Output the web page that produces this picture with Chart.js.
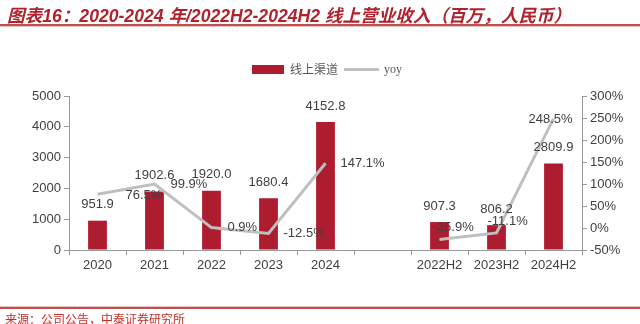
<!DOCTYPE html>
<html>
<head>
<meta charset="utf-8">
<script src="https://cdn.jsdelivr.net/npm/chart.js@4/dist/chart.umd.min.js"></script>
<style>
    body { margin: 0; background: #fff; }
    #wrap { position: relative; width: 640px; height: 324px; overflow: hidden; }
    #chart { position: absolute; left: 0; top: 0; }
    #title {
        position: absolute; left: 7px; top: 2px; white-space: nowrap;
        font: italic bold 17.6px "Liberation Sans", "Noto Sans CJK SC", sans-serif;
        color: #b0222c;
    }
    .rule { position: absolute; left: 0; width: 640px; }
    #legend {
        position: absolute; left: 252px; top: 61px; height: 16px; white-space: nowrap;
        font: 12px "Liberation Serif", "Noto Sans CJK SC", serif; color: #595959;
        display: flex; align-items: center;
    }
    #legend .bar { width: 32px; height: 9px; background: #ae1c30; margin-right: 6px; }
    #legend .line { width: 35px; height: 3px; background: #bfbfbf; margin: 0 5px 0 6px; }
    #source {
        position: absolute; left: 5px; top: 310px; white-space: nowrap;
        font: 12px "Noto Sans CJK SC", sans-serif; color: #c0302a;
    }
</style>
</head>
<body>
<div id="wrap">
    <canvas id="chart" width="640" height="324"></canvas>
    <div id="title">图表16：2020-2024 年/2022H2-2024H2 线上营业收入（百万，人民币）</div>
    <div class="rule" style="top:24px;height:2px;background:#c0504d;"></div>
    <div class="rule" style="top:26px;height:1px;background:#ebc4c3;"></div>
    <div id="legend">
        <span class="bar"></span><span>线上渠道</span>
        <span class="line"></span><span>yoy</span>
    </div>
    <div class="rule" style="top:306px;height:1px;background:#ebc4c3;"></div>
    <div class="rule" style="top:307px;height:2px;background:#c0504d;"></div>
    <div id="source">来源：公司公告，中泰证券研究所</div>
</div>

<script>
// data
var categories = ['2020', '2021', '2022', '2023', '2024', '', '2022H2', '2023H2', '2024H2'];
var revenue = [951.9, 1902.6, 1920.0, 1680.4, 4152.8, null, 907.3, 806.2, 2809.9];
var yoy = [76.5, 99.9, 0.9, -12.5, 147.1, null, -25.9, -11.1, 248.5];
var leftTicks = [0, 1000, 2000, 3000, 4000, 5000];
var rightTicks = [-50, 0, 50, 100, 150, 200, 250, 300];

var textColor = '#404040';
var axisColor = '#999999';
var numFont = { family: 'Liberation Sans', size: 13 };

// where the yoy labels sit relative to their point (dx, dy)
var yoyShift = [[28, 1], [16, 0], [16, 0], [15, 0], [15, 0], null, [-7, -12], [-9, -11], [-25, 1]];

var valueLabels = {
    id: 'valueLabels',
    afterDatasetsDraw: function(chart) {
        var ctx = chart.ctx;
        ctx.save();
        ctx.font = '13px "Liberation Sans"';
        ctx.fillStyle = textColor;
        ctx.textBaseline = 'middle';

        // bar values
        var barMeta = chart.getDatasetMeta(1);
        ctx.textAlign = 'center';
        barMeta.data.forEach(function(el, i) {
            if (revenue[i] == null) return;
            ctx.fillText(revenue[i].toFixed(1), el.x, el.y - 16);
        });

        // yoy values
        var lineMeta = chart.getDatasetMeta(0);
        ctx.textAlign = 'left';
        lineMeta.data.forEach(function(el, i) {
            if (yoy[i] == null) return;
            var s = yoyShift[i];
            ctx.fillText(yoy[i].toFixed(1) + '%', el.x + s[0], el.y + s[1]);
        });
        ctx.restore();
    }
};

new Chart(document.getElementById('chart'), {
    type: 'bar',
    data: {
        labels: categories,
        datasets: [{
            type: 'line',
            label: 'yoy',
            data: yoy,
            yAxisID: 'y1',
            borderColor: '#bfbfbf',
            borderWidth: 3,
            pointRadius: 0,
            tension: 0,
            spanGaps: false,
            order: 0
        }, {
            type: 'bar',
            label: '线上渠道',
            data: revenue,
            yAxisID: 'y',
            backgroundColor: '#ae1c30',
            barPercentage: 0.33,
            categoryPercentage: 1,
            order: 1
        }]
    },
    plugins: [valueLabels],
    options: {
        responsive: false,
        animation: false,
        layout: { padding: { top: 96, left: 0, right: 0, bottom: 0 } },
        plugins: {
            legend: { display: false },
            tooltip: { enabled: false }
        },
        scales: {
            x: {
                offset: true,
                grid: { offset: true, drawOnChartArea: false, tickLength: 5, color: axisColor },
                border: { color: axisColor },
                ticks: { color: textColor, font: numFont, padding: 3, maxRotation: 0, autoSkip: false },
                afterFit: function(s) { s.height = 74; }
            },
            y: {
                position: 'left',
                min: 0, max: 5000,
                afterBuildTicks: function(s) { s.ticks = leftTicks.map(function(v) { return { value: v }; }); },
                grid: { drawOnChartArea: false, tickLength: 5, color: axisColor },
                border: { color: axisColor },
                ticks: {
                    color: textColor, font: numFont, padding: 3,
                    callback: function(v) { return String(v); }
                },
                afterFit: function(s) { s.width = 69; }
            },
            y1: {
                position: 'right',
                min: -50, max: 300,
                afterBuildTicks: function(s) { s.ticks = rightTicks.map(function(v) { return { value: v }; }); },
                grid: { drawOnChartArea: false, tickLength: 5, color: axisColor },
                border: { color: axisColor },
                ticks: {
                    color: textColor, font: numFont, padding: 3,
                    callback: function(v) { return v + '%'; }
                },
                afterFit: function(s) { s.width = 58; }
            }
        }
    }
});
</script>
</body>
</html>
